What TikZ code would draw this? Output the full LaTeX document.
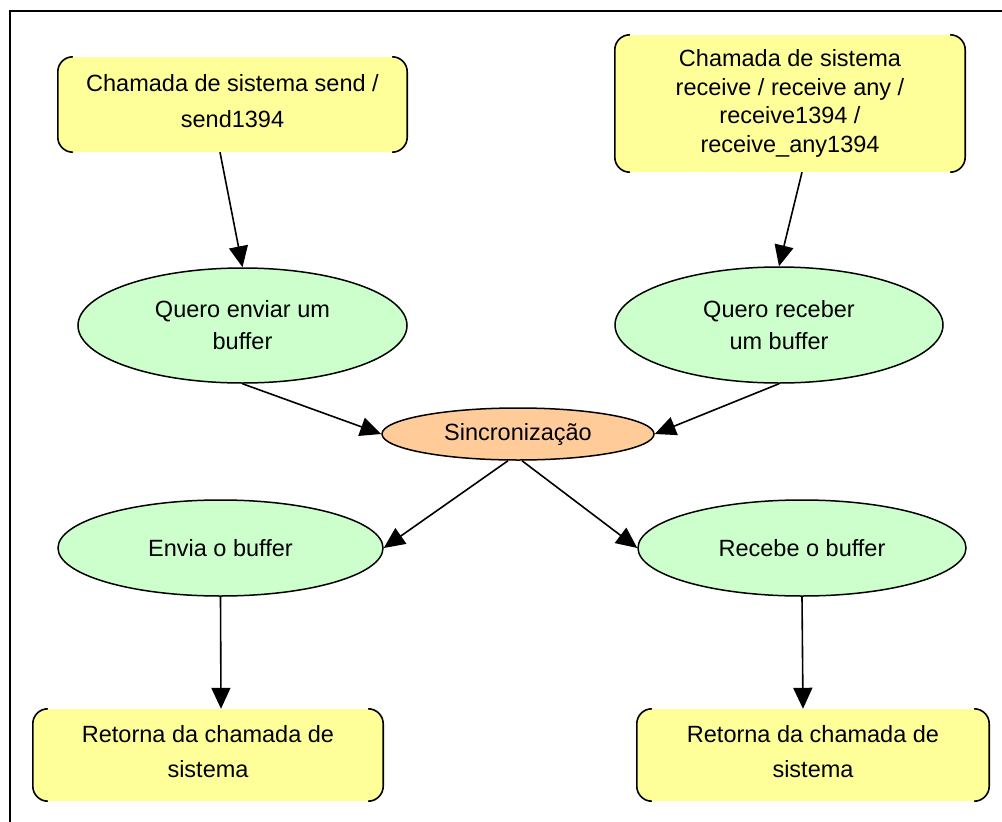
\documentclass[tikz,border=0pt]{standalone}
\usepackage{fontspec}
\setmainfont{Liberation Sans}
\usetikzlibrary{arrows.meta,shapes.geometric}
\definecolor{boxyellow}{HTML}{FFFF99}
\definecolor{ellgreen}{HTML}{CCFFCC}
\definecolor{ellorange}{HTML}{FFCC99}
\tikzset{
  callbox/.style={rectangle, fill=boxyellow, rounded corners=15pt, inner sep=0pt, align=center},
  ellnode/.style={ellipse, draw=black, line width=1.5pt, inner sep=0pt, align=center},
  arr/.style={line width=1.6pt, -{Triangle[length=21pt,width=19pt]}},
  bracket/.style={line width=1.6pt, rounded corners=15pt},
}
\newcommand{\txt}[1]{\fontsize{23.5}{#1}\selectfont}
\newcommand{\lift}{\rule[-8pt]{0pt}{8pt}}
\begin{document}
\begin{tikzpicture}[x=1pt,y=-1pt]
\useasboundingbox (0,0) rectangle (1002,822);
% frame
\coordinate (ftr) at (1002,11);
\coordinate (ftl) at (10,11);
\coordinate (fbl) at (10,822);
\draw[line width=1.2pt] (ftr) -- (ftl) -- (fbl);

% boxes
\node[callbox, minimum width=349pt, minimum height=95pt, font=\txt{36}] (b1) at (232.5,104.5)
  {Chamada de sistema send /\\send1394\lift};
\node[callbox, minimum width=350pt, minimum height=137pt, font=\txt{28.5}] (b2) at (790,103.5)
  {Chamada de sistema\\receive / receive any /\\receive1394 /\\receive\_any1394};
\node[callbox, minimum width=350pt, minimum height=92pt, font=\txt{35}] (b3) at (208,755)
  {Retorna da chamada de\\sistema\lift};
\node[callbox, minimum width=352pt, minimum height=92pt, font=\txt{35}] (b4) at (813,755)
  {Retorna da chamada de\\sistema\lift};

\foreach \b in {b1,b2,b3,b4}{
  \draw[bracket] ([xshift=15pt]\b.north west) -- (\b.north west) -- (\b.south west) -- ([xshift=15pt]\b.south west);
  \draw[bracket] ([xshift=-15pt]\b.north east) -- (\b.north east) -- (\b.south east) -- ([xshift=-15pt]\b.south east);
}

% ellipses
\node[ellnode, fill=ellgreen, minimum width=329pt, minimum height=115pt, font=\txt{32}] (e1) at (242.5,325.5)
  {Quero enviar um\\buffer};
\node[ellnode, fill=ellgreen, minimum width=328pt, minimum height=116pt, font=\txt{32}] (e2) at (779,325)
  {Quero receber\\um buffer};
\node[ellnode, fill=ellorange, minimum width=272pt, minimum height=52pt, font=\txt{28}] (s) at (518,434)
  {Sincronização};
\node[ellnode, fill=ellgreen, minimum width=325pt, minimum height=96pt, font=\txt{28}] (env) at (220.5,548)
  {Envia o buffer};
\node[ellnode, fill=ellgreen, minimum width=328pt, minimum height=96pt, font=\txt{28}] (rec) at (802,548)
  {Recebe o buffer};

% connectors
\draw[arr] ([xshift=-12.5pt]b1.south) -- (e1.north);
\draw[arr] ([xshift=12pt]b2.south) -- (e2.north);
\draw[arr] (e1.south) -- (s.west);
\draw[arr] (e2.south) -- (s.east);
\draw[arr] ([xshift=-10pt]s.south) -- (env.east);
\draw[arr] ([xshift=4pt]s.south) -- (rec.west);
\draw[arr] (env.south) -- ([xshift=13pt]b3.north);
\draw[arr] (rec.south) -- ([xshift=-10pt]b4.north);
\end{tikzpicture}
\end{document}
